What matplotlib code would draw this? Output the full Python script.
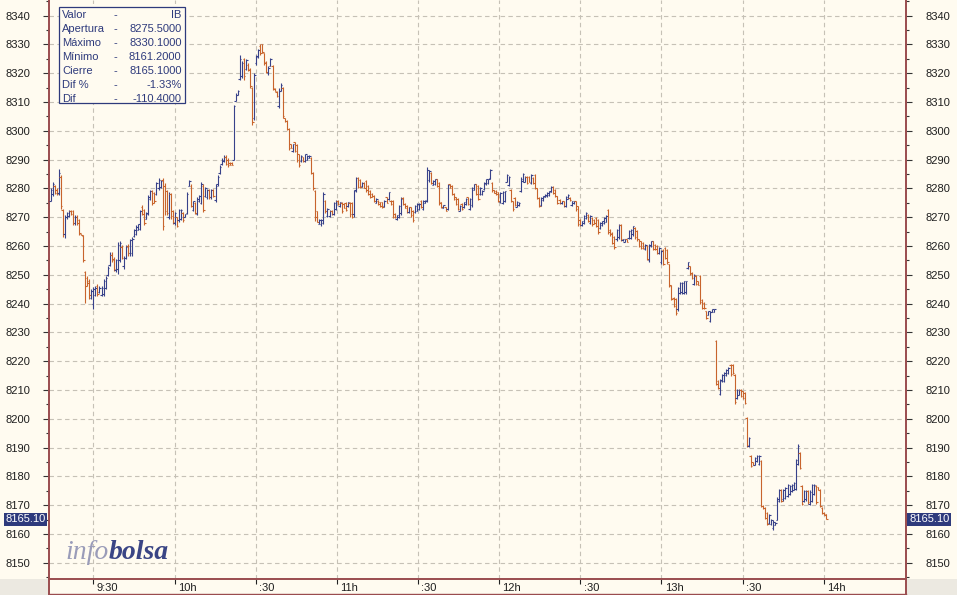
import numpy as np
import matplotlib
matplotlib.use("Agg")
import matplotlib.pyplot as plt
from matplotlib.collections import LineCollection
from matplotlib.patches import Rectangle
from matplotlib.lines import Line2D

plt.rcParams['font.family'] = ['Liberation Sans', 'DejaVu Sans']

# ---------------- data ----------------
first_bar_minute = 14.2     # minutes after 09:00 of the first bar
last_bar_minute = 300.9     # minutes after 09:00 of the last bar

open_prices = [
    8275.5, 8278, 8281, 8279.5, 8278.5, 8284, 8272.5, 8264, 8270, 8270.5,
    8272, 8272, 8268, 8270, 8269, 8264.3, 8263.5, 8251, 8249, 8248,
    8242, 8240, 8243, 8246, 8244, 8243, 8243.5, 8245.5, 8250, 8253.5,
    8257, 8255.5, 8251.5, 8252, 8255, 8259.5, 8253, 8256, 8260, 8257.5,
    8257.5, 8263.5, 8264, 8265.5, 8266, 8273.5, 8272.5, 8269.5, 8271, 8276.5,
    8279, 8278.5, 8278, 8280, 8280.5, 8283, 8281, 8279, 8270, 8278,
    8272, 8268, 8270, 8269, 8269.5,
    8271.5, 8270, 8271.5, 8281, 8281, 8272.5, 8275, 8271, 8275.5, 8275,
    8281, 8277.5, 8277, 8279.5, 8277, 8279.5, 8276, 8281.5, 8285.5, 8288.5,
    8289.5, 8291, 8290, 8289, 8289, 8290, 8310.5, 8312.5, 8318, 8319,
    8325, 8321.5, 8323, 8321.5, 8315, 8304.5, 8323.5, 8325.5, 8329.5, 8330,
    8327, 8324, 8320, 8322.5, 8322.5, 8314.7, 8313.5, 8308.5, 8314, 8315,
    8304.3, 8303.5, 8300.5, 8295.5, 8293, 8296, 8295, 8292, 8289.5, 8290.8,
    8289.5, 8290, 8290.5, 8290.5, 8285.5, 8279, 8272, 8267.8, 8267.5, 8268,
    8275.5, 8270.5, 8270.5, 8272.3, 8271.2, 8273, 8275.8, 8274, 8275, 8274.6,
    8275, 8274, 8275, 8275, 8271, 8279.5, 8283.5, 8283, 8280.8, 8282,
    8282.5, 8281, 8279.2, 8278.2, 8277.5, 8275, 8275.8, 8275.2, 8275.2, 8274,
    8277, 8276.3, 8275.8, 8275.8, 8271.2, 8269.3, 8270, 8271.5, 8276.8, 8274.6,
    8274, 8271.7, 8273.4, 8272.2, 8271.8, 8272.3, 8272.8, 8275.8, 8273, 8275,
    8276, 8282.8, 8285.5, 8281.3, 8281.4, 8283.2, 8282, 8275.2, 8273.3, 8273.5,
    8273, 8281.5, 8281, 8278, 8277, 8276.4, 8272.3, 8274.6, 8273.4, 8274.6,
    8276.9, 8273, 8274.2, 8279.6, 8281.5, 8280.8, 8278, 8278, 8279.7, 8281.4,
    8282, 8283.7, 8282, 8279.3, 8279.2, 8278.6, 8275.2,
    8275, 8275.6, 8282.4, 8281.2, 8279.5, 8275.5, 8276.6, 8273.7, 8274.2, 8279,
    8282.5, 8282.4, 8284.1, 8284.1, 8281.9, 8283.5, 8284.6, 8280, 8276.6, 8274.3,
    8276, 8277.1, 8277.2, 8277.8, 8278.9, 8280.6, 8279.5, 8277.2, 8276.1, 8274.8,
    8275.5, 8273.8, 8276.5, 8276.8, 8274.2, 8274.8, 8275.5, 8273.8, 8269.2, 8267.3,
    8268, 8269.7, 8270.9, 8268, 8269.8, 8269.2, 8269.8, 8269.2, 8266.2, 8267.3,
    8268, 8268.5, 8272.5, 8265.7, 8264.5, 8263.3, 8262.3, 8263, 8267.3, 8262,
    8261.5, 8262.3, 8262.8, 8262.8, 8264, 8266.2, 8265.1, 8262.3, 8261.6, 8261.1,
    8258.8, 8259.9, 8255, 8259.9, 8261.6, 8260.5, 8259.9, 8257.6, 8254.3, 8258.7,
    8259.3, 8258.7, 8253.6, 8246.1, 8242, 8241.5,
    8238, 8243.8, 8244, 8243.8, 8244, 8252.4, 8253, 8250.7, 8246.7, 8249.5,
    8247.8, 8249.5, 8241.4, 8240.3, 8237.4, 8236.1, 8234, 8237.2, 8237.2, 8227,
    8213, 8208.6, 8213, 8213, 8215.3, 8215.9, 8218.8, 8218.8, 8215.3, 8207.2,
    8208.4, 8210.1, 8209.5, 8209, 8200.3, 8190.6, 8187, 8184.9, 8184.1, 8185.3,
    8184.2, 8185.2, 8169.8, 8169.1, 8167.3, 8163.8, 8163.3, 8162, 8163.2, 8165,
    8171.4, 8175.4, 8172, 8172.5, 8173.2, 8173.7, 8174.8, 8175.4, 8175.6, 8184.3,
    8188, 8176.6, 8171.4, 8172, 8174.8, 8170.3, 8171.5, 8173.8, 8176.5, 8176.2,
    8175.4, 8169.1, 8167.4, 8166.8,
]

high_prices = [
    8280.3, 8282.4, 8281.2, 8280.0, 8286.8, 8284.7, 8273.0, 8270.7, 8271.9, 8272.5,
    8272.5, 8272.5, 8270.7, 8270.7, 8269.5, 8264.3, 8263.7, 8251.4, 8249.6, 8248.5,
    8245.0, 8245.6, 8246.1, 8246.7, 8246.1, 8246.1, 8248.5, 8249.6, 8253.2, 8257.8,
    8257.8, 8256.1, 8255.5, 8261.3, 8261.9, 8260.2, 8256.7, 8260.2, 8260.8, 8262.5,
    8263.1, 8266.0, 8267.2, 8267.8, 8272.5, 8274.2, 8273.0, 8271.9, 8277.7, 8279.5,
    8279.5, 8278.9, 8282.4, 8283.6, 8283.0, 8283.6, 8281.8, 8279.5, 8278.9, 8278.3,
    8272.5, 8271.9, 8270.1, 8273.0, 8273.0,
    8271.7, 8271.1, 8278.7, 8282.8, 8281.6, 8275.8, 8275.2, 8277.0, 8277.6, 8282.2,
    8281.6, 8280.5, 8279.9, 8279.9, 8279.9, 8279.9, 8281.6, 8284.5, 8288.0, 8290.4,
    8291.5, 8291.5, 8290.4, 8289.2, 8289.2, 8309.0, 8313.1, 8314.3, 8326.5, 8324.2,
    8325.3, 8324.8, 8323.6, 8321.8, 8315.4, 8320.1, 8326.5, 8328.3, 8330.0, 8330.1,
    8327.1, 8324.2, 8322.4, 8325.3, 8323.0, 8314.8, 8313.7, 8314.8, 8316.6, 8315.4,
    8304.4, 8303.8, 8300.9, 8295.6, 8295.6, 8296.2, 8295.6, 8292.1, 8291.5, 8290.9,
    8292.1, 8291.5, 8291.5, 8290.9, 8285.7, 8279.3, 8272.3, 8269.4, 8269.4, 8278.7,
    8276.0, 8273.1, 8272.5, 8272.5, 8275.4, 8276.0, 8276.0, 8275.4, 8275.4, 8274.8,
    8275.4, 8275.4, 8275.4, 8275.4, 8279.4, 8284.0, 8284.0, 8283.4, 8282.3, 8282.3,
    8282.9, 8281.1, 8279.4, 8278.3, 8277.7, 8276.6, 8276.0, 8275.4, 8275.4, 8276.0,
    8277.1, 8278.9, 8276.0, 8276.0, 8271.4, 8270.8, 8274.3, 8277.1, 8277.1, 8274.8,
    8274.3, 8273.7, 8273.7, 8272.5, 8274.3, 8274.8, 8274.8, 8276.0, 8276.0, 8276.0,
    8287.5, 8286.3, 8285.7, 8282.9, 8283.4, 8283.4, 8282.3, 8275.4, 8274.3, 8273.7,
    8281.7, 8281.7, 8281.1, 8278.3, 8277.1, 8276.6, 8274.3, 8274.8, 8275.4, 8276.6,
    8277.1, 8276.6, 8280.6, 8281.7, 8281.7, 8281.1, 8280.6, 8279.4, 8282.3, 8283.4,
    8283.4, 8286.9, 8282.3, 8279.4, 8279.4, 8278.9, 8278.9,
    8279.2, 8279.2, 8285.0, 8284.4, 8279.8, 8275.7, 8276.9, 8275.7, 8275.2, 8283.8,
    8285.5, 8284.4, 8284.4, 8284.4, 8285.0, 8283.8, 8285.0, 8280.3, 8276.9, 8276.9,
    8277.5, 8278.0, 8278.6, 8279.2, 8280.9, 8280.9, 8279.8, 8277.5, 8276.3, 8275.7,
    8275.7, 8277.5, 8278.0, 8276.9, 8275.7, 8275.7, 8275.7, 8274.0, 8269.4, 8268.8,
    8270.6, 8271.7, 8271.1, 8270.6, 8270.0, 8269.4, 8270.0, 8269.4, 8268.2, 8268.8,
    8270.0, 8270.6, 8272.9, 8265.9, 8264.8, 8263.6, 8265.9, 8267.7, 8267.7, 8262.5,
    8262.5, 8262.5, 8265.4, 8265.9, 8267.1, 8266.5, 8265.4, 8262.5, 8261.9, 8261.3,
    8260.8, 8260.2, 8260.8, 8261.9, 8261.9, 8260.8, 8260.2, 8259.6, 8258.5, 8259.0,
    8259.6, 8259.0, 8253.9, 8246.4, 8242.3, 8241.8,
    8245.7, 8247.5, 8247.5, 8248.0, 8248.0, 8254.6, 8253.2, 8250.9, 8250.3, 8249.8,
    8248.0, 8249.8, 8241.7, 8240.5, 8237.6, 8237.6, 8237.6, 8238.2, 8238.2, 8227.2,
    8213.3, 8213.9, 8215.6, 8216.2, 8217.4, 8217.9, 8219.1, 8219.1, 8215.6, 8210.4,
    8210.4, 8210.4, 8209.8, 8209.3, 8200.6, 8193.6, 8187.3, 8185.0, 8186.7, 8187.3,
    8187.3, 8185.5, 8169.9, 8169.3, 8167.6, 8167.0, 8165.3, 8164.7, 8164.1, 8172.8,
    8175.7, 8175.7, 8175.7, 8176.3, 8177.4, 8176.9, 8177.4, 8178.0, 8186.1, 8191.3,
    8188.4, 8176.9, 8175.1, 8175.1, 8175.1, 8175.1, 8177.4, 8177.4, 8176.9, 8176.3,
    8175.7, 8169.3, 8167.6, 8167.0,
]

low_prices = [
    8275.5, 8277.2, 8278.0, 8277.7, 8277.7, 8273.0, 8263.1, 8262.8, 8269.5, 8270.1,
    8270.7, 8267.2, 8267.2, 8267.2, 8263.7, 8263.7, 8254.3, 8240.3, 8246.1, 8241.5,
    8241.5, 8238.0, 8242.6, 8242.6, 8243.8, 8242.6, 8242.6, 8245.0, 8249.6, 8253.2,
    8254.3, 8251.4, 8250.8, 8250.2, 8254.3, 8255.5, 8252.0, 8255.5, 8256.7, 8256.7,
    8256.7, 8263.1, 8263.7, 8265.4, 8265.4, 8270.7, 8267.2, 8269.5, 8270.7, 8276.0,
    8274.2, 8274.8, 8277.7, 8279.5, 8280.0, 8265.4, 8270.7, 8270.7, 8269.5, 8269.5,
    8267.8, 8267.2, 8266.6, 8268.4, 8268.9,
    8268.2, 8270.0, 8271.1, 8281.0, 8273.5, 8272.3, 8271.1, 8270.6, 8275.2, 8274.6,
    8271.7, 8277.0, 8276.4, 8276.4, 8276.4, 8277.0, 8275.2, 8281.0, 8285.1, 8288.0,
    8289.2, 8288.0, 8287.5, 8288.0, 8288.0, 8289.8, 8310.2, 8312.5, 8317.8, 8318.3,
    8317.8, 8321.3, 8320.7, 8314.8, 8302.0, 8303.8, 8323.0, 8325.3, 8326.5, 8327.1,
    8323.0, 8320.1, 8319.5, 8322.4, 8314.3, 8313.7, 8311.9, 8307.9, 8313.7, 8304.4,
    8303.2, 8300.3, 8293.3, 8293.9, 8292.7, 8292.7, 8289.2, 8287.5, 8289.2, 8289.2,
    8289.2, 8289.8, 8290.4, 8285.1, 8279.3, 8268.8, 8268.2, 8267.6, 8267.0, 8267.6,
    8271.4, 8270.2, 8270.2, 8270.8, 8270.8, 8272.5, 8274.3, 8273.7, 8271.4, 8273.1,
    8272.0, 8273.7, 8270.2, 8269.7, 8270.2, 8278.9, 8280.0, 8280.0, 8280.6, 8280.0,
    8278.9, 8277.7, 8276.6, 8277.1, 8275.4, 8274.8, 8274.3, 8273.7, 8273.1, 8273.7,
    8274.8, 8276.0, 8274.3, 8269.7, 8269.7, 8269.1, 8269.7, 8270.8, 8274.3, 8273.1,
    8271.4, 8271.4, 8270.2, 8268.5, 8271.4, 8272.0, 8272.5, 8273.1, 8272.5, 8274.8,
    8275.4, 8282.3, 8281.7, 8281.1, 8281.1, 8280.6, 8274.3, 8273.1, 8273.1, 8272.0,
    8272.5, 8280.0, 8277.7, 8276.0, 8274.3, 8272.5, 8272.0, 8272.5, 8273.1, 8274.3,
    8274.3, 8272.5, 8273.7, 8279.4, 8277.7, 8276.0, 8277.7, 8277.7, 8279.4, 8281.1,
    8281.7, 8283.4, 8278.9, 8278.3, 8277.7, 8275.4, 8274.8,
    8274.6, 8275.2, 8282.1, 8280.9, 8275.2, 8272.3, 8274.0, 8273.4, 8274.0, 8278.6,
    8282.1, 8282.1, 8281.5, 8282.1, 8281.5, 8281.5, 8279.8, 8276.3, 8273.4, 8274.0,
    8275.7, 8276.9, 8276.9, 8277.5, 8278.6, 8278.0, 8276.9, 8274.6, 8274.6, 8274.6,
    8273.4, 8273.4, 8276.3, 8275.7, 8274.0, 8274.6, 8272.3, 8267.1, 8267.1, 8267.1,
    8267.7, 8269.4, 8268.2, 8267.7, 8267.1, 8267.7, 8266.5, 8264.2, 8265.9, 8267.1,
    8267.7, 8268.2, 8264.2, 8263.6, 8260.8, 8259.0, 8261.9, 8262.5, 8261.9, 8261.9,
    8261.3, 8261.3, 8262.5, 8262.5, 8263.6, 8262.5, 8261.9, 8259.6, 8259.0, 8259.0,
    8258.5, 8255.0, 8254.4, 8259.6, 8258.5, 8258.5, 8257.3, 8257.3, 8253.9, 8253.3,
    8255.6, 8253.9, 8245.8, 8241.2, 8238.9, 8236.0,
    8237.6, 8243.4, 8243.4, 8243.4, 8243.4, 8252.1, 8249.8, 8248.6, 8246.3, 8246.3,
    8246.3, 8239.9, 8238.2, 8238.2, 8234.7, 8235.9, 8233.6, 8237.0, 8237.0, 8211.6,
    8210.4, 8208.1, 8212.7, 8212.7, 8215.0, 8215.6, 8215.0, 8215.6, 8205.2, 8206.9,
    8208.1, 8207.5, 8206.9, 8205.2, 8190.2, 8190.2, 8183.2, 8183.8, 8183.8, 8185.0,
    8183.8, 8169.3, 8168.7, 8165.3, 8163.0, 8163.5, 8163.0, 8161.2, 8163.0, 8164.7,
    8171.1, 8171.1, 8171.6, 8172.2, 8172.8, 8173.4, 8174.5, 8175.1, 8175.1, 8183.8,
    8182.6, 8169.9, 8171.1, 8171.6, 8170.5, 8169.9, 8171.1, 8173.4, 8170.5, 8175.1,
    8169.3, 8167.0, 8166.4, 8165.3,
]

close_prices = [
    8279.5, 8281.5, 8278.5, 8278, 8285.5, 8274, 8264, 8270, 8271.5, 8272,
    8271, 8268, 8270, 8268, 8264.5, 8263.8, 8255, 8246, 8247, 8243,
    8244.5, 8245, 8245.5, 8243.5, 8245.5, 8245.5, 8248, 8249, 8252.5, 8257,
    8255, 8252, 8255, 8260.5, 8261, 8256, 8256, 8259.5, 8257.5, 8262,
    8262.5, 8265.5, 8266.5, 8267.5, 8272, 8271, 8268, 8271.5, 8277, 8279,
    8275, 8275.5, 8282, 8283, 8282.5, 8267, 8272, 8271.5, 8278, 8270.5,
    8268.5, 8271.5, 8267, 8272.5, 8272.5,
    8269, 8271, 8278, 8282.5, 8274, 8275.5, 8271.5, 8276.5, 8277.5, 8281.5,
    8272.5, 8280, 8279.5, 8277, 8279.5, 8277.5, 8281, 8284, 8287.5, 8290,
    8291, 8288.5, 8288, 8288.2, 8288.3, 8308.5, 8312.5, 8314, 8325, 8323.5,
    8319, 8324.5, 8321, 8315.5, 8303, 8319.5, 8326, 8328, 8327, 8327.5,
    8323.5, 8320.5, 8322, 8325, 8315, 8313.8, 8312, 8314, 8316, 8305,
    8303.3, 8300.8, 8294, 8294, 8295.3, 8293, 8290, 8288, 8291.2, 8289.5,
    8291.8, 8291.3, 8291.3, 8285.5, 8280, 8270, 8268.5, 8269.2, 8269, 8278,
    8272, 8272.8, 8272.2, 8271, 8275, 8275.5, 8274.5, 8275.2, 8272, 8273.3,
    8272.5, 8275.2, 8271, 8270, 8279, 8283.5, 8280.5, 8280.5, 8282, 8280.3,
    8279.3, 8278, 8277, 8277.3, 8275.8, 8276.4, 8274.5, 8274, 8273.4, 8275.8,
    8275, 8278.6, 8274.5, 8270.2, 8270, 8270.6, 8274, 8276.5, 8274.5, 8273.3,
    8271.8, 8273.4, 8270.6, 8269, 8274, 8274.5, 8274.5, 8273.5, 8275.7, 8275.8,
    8286.5, 8286, 8282, 8282.7, 8283.2, 8281, 8275, 8273.5, 8274.1, 8272.3,
    8281.2, 8280.3, 8278, 8276.3, 8274.6, 8273, 8274, 8272.8, 8275.2, 8276.4,
    8274.6, 8276.3, 8280, 8281.5, 8278.2, 8276.5, 8280.3, 8279.2, 8282, 8283.2,
    8283.2, 8286.5, 8279.3, 8278.5, 8278, 8275.8, 8278.5,
    8278.8, 8279, 8284.7, 8284, 8275.6, 8272.8, 8274.4, 8275.4, 8275, 8283.3,
    8285.1, 8284.1, 8281.9, 8282.4, 8284.6, 8281.8, 8280.3, 8276.8, 8273.8, 8276.6,
    8277.2, 8277.8, 8278.3, 8279, 8280.6, 8278.4, 8277.3, 8275, 8274.9, 8275.5,
    8273.8, 8277.1, 8277.8, 8275.9, 8275.5, 8275.5, 8272.7, 8267.6, 8267.4, 8268.6,
    8270.3, 8271.5, 8268.6, 8270.3, 8267.5, 8268, 8266.9, 8264.7, 8268, 8268.6,
    8269.8, 8270.3, 8264.8, 8264, 8261.2, 8259.5, 8265.5, 8267.2, 8262.4, 8262.4,
    8262.3, 8261.5, 8265.1, 8265.5, 8266.8, 8263, 8262.3, 8260, 8259.4, 8259.3,
    8260.5, 8255.5, 8260.4, 8261.6, 8258.9, 8258.8, 8257.7, 8259.3, 8258.1, 8253.8,
    8256, 8254.3, 8246.4, 8241.7, 8239.3, 8236.6,
    8245.3, 8247.1, 8247.2, 8247.7, 8247.8, 8254.3, 8250.2, 8249, 8250, 8246.7,
    8246.6, 8240.5, 8238.6, 8238.5, 8235.1, 8237.3, 8237.2, 8238, 8238, 8212,
    8210.8, 8213.5, 8215.3, 8215.8, 8217.1, 8217.6, 8215.4, 8216, 8205.8, 8210.1,
    8210.1, 8207.9, 8207.3, 8205.6, 8190.8, 8193.3, 8183.6, 8184, 8186.4, 8187,
    8186.9, 8169.8, 8168.9, 8165.7, 8163.4, 8166.6, 8165, 8164.3, 8163.9, 8172.3,
    8175.3, 8171.5, 8175.4, 8176, 8177, 8176.6, 8177.1, 8177.7, 8185.5, 8190.7,
    8183, 8170.4, 8174.8, 8174.8, 8171, 8174.6, 8177, 8177, 8171, 8175.3,
    8169.8, 8167.4, 8166.6, 8165.1,
]

x_tick_minutes = [30, 60, 90, 120, 150, 180, 210, 240, 270, 300]
x_tick_labels = ['9:30', '10h', ':30', '11h', ':30', '12h', ':30', '13h', ':30', '14h']
y_major_ticks = list(range(8150, 8341, 10))

last_price = 8165.10
last_price_label = '8165.10'

info_labels = ['Valor', 'Apertura', 'Máximo', 'Mínimo', 'Cierre', 'Dif %', 'Dif']
info_values = ['IB', '8275.5000', '8330.1000', '8161.2000', '8165.1000', '-1.33%', '-110.4000']

# ---------------- style ----------------
BG = '#FFFBF0'
CORNER = '#ECE9E1'
UP = '#38428A'
DOWN = '#C8642C'
NAVY = '#2E3A7C'
AXIS_RED = '#9A4C4E'
GRID = '#C6C1B6'
TXT = '#1E1E1E'

W, H = 957, 595
fig = plt.figure(figsize=(W / 100, H / 100), dpi=100)
fig.patch.set_facecolor(BG)

def fx(px):
    return px / W

def fy(py):
    return 1 - py / H

AX_L, AX_R, AX_B = 49, 906, 579
ax = fig.add_axes([fx(AX_L), fy(AX_B), (AX_R - AX_L) / W, AX_B / H])
ax.set_facecolor(BG)

# ---------------- bars ----------------
o = np.array(open_prices)
hi = np.array(high_prices)
lo = np.array(low_prices)
c = np.array(close_prices)
n = len(c)
assert len(o) == len(hi) == len(lo) == n
t = np.linspace(first_bar_minute, last_bar_minute, n)
tick_w = 0.55
segs, cols = [], []
for i in range(n):
    col = UP if c[i] >= o[i] else DOWN
    segs.append([(t[i], lo[i]), (t[i], hi[i])])
    segs.append([(t[i] - tick_w, o[i]), (t[i], o[i])])
    segs.append([(t[i], c[i]), (t[i] + tick_w, c[i])])
    cols += [col, col, col]
lc = LineCollection(segs, colors=cols, linewidths=0.8, antialiaseds=True, zorder=3)
lc.set_snap(True)
ax.add_collection(lc)

ax.set_xlim(13.6, 330.4)
ax.set_ylim(8144.34, 8345.45)

# ---------------- axes / ticks ----------------
ax.set_yticks(y_major_ticks)
ax.set_yticks(np.arange(8145, 8346, 5), minor=True)
ax.set_xticks(x_tick_minutes)
ax.set_xticklabels([])
ax.grid(True, which='major', color=GRID, linestyle=(0, (4, 3)), linewidth=0.8, zorder=1)
ax.set_axisbelow(True)

ax.tick_params(axis='y', which='major', direction='out', length=4.3, width=0.8,
               color='#333333', left=True, right=True, labelleft=True, labelright=True,
               labelsize=8, labelcolor=TXT, pad=9.4)
ax.tick_params(axis='y', which='minor', direction='out', length=2.2, width=0.8,
               color='#333333', left=True, right=True)
ax.tick_params(axis='x', which='major', direction='out', length=3.5, width=0.8,
               color='#222222', bottom=True, top=False, labelbottom=False)
for tk in ax.yaxis.get_major_ticks():
    tk.label2.set_fontsize(8)
    tk.label2.set_color(TXT)

ax.spines['top'].set_visible(False)
for s in ('left', 'right', 'bottom'):
    ax.spines[s].set_color(AXIS_RED)
    ax.spines[s].set_linewidth(1.4)

for m, lab in zip(x_tick_minutes, x_tick_labels):
    ax.annotate(lab, xy=(m, 0), xycoords=('data', 'axes fraction'),
                xytext=(2.4, -6.8), textcoords='offset points',
                ha='left', va='center', fontsize=8, color=TXT, annotation_clip=False)

# bottom band corners and lines
fig.patches.append(Rectangle((0, 0), fx(AX_L), (H - AX_B) / H, transform=fig.transFigure,
                             facecolor=CORNER, edgecolor='none', zorder=0))
fig.patches.append(Rectangle((fx(AX_R), 0), 1 - fx(AX_R), (H - AX_B) / H,
                             transform=fig.transFigure, facecolor=CORNER,
                             edgecolor='none', zorder=0))
fig.lines.append(Line2D([fx(AX_L), fx(AX_L)], [0, fy(AX_B)], transform=fig.transFigure,
                        color=AXIS_RED, linewidth=1.4))
fig.lines.append(Line2D([fx(AX_R), fx(AX_R)], [0, fy(AX_B)], transform=fig.transFigure,
                        color=AXIS_RED, linewidth=1.4))
fig.lines.append(Line2D([fx(AX_L), fx(AX_R)], [fy(594.3), fy(594.3)], transform=fig.transFigure,
                        color=AXIS_RED, linewidth=1.0))

# last price boxes
box = dict(boxstyle='square,pad=0.15', facecolor=NAVY, edgecolor='none')
ax.annotate(last_price_label, xy=(0, last_price), xycoords=('axes fraction', 'data'),
            xytext=(-43.5 * 0.72, 0), textcoords='offset points', ha='left', va='center',
            fontsize=8, color='white', bbox=box, annotation_clip=False, zorder=6)
ax.annotate(last_price_label, xy=(1, last_price), xycoords=('axes fraction', 'data'),
            xytext=(3 * 0.72, 0), textcoords='offset points', ha='left', va='center',
            fontsize=8, color='white', bbox=box, annotation_clip=False, zorder=6)

# info box
fig.patches.append(Rectangle((fx(59), fy(103)), (185 - 59) / W, (103 - 7) / H,
                             transform=fig.transFigure, facecolor=BG, edgecolor=NAVY,
                             linewidth=0.9, zorder=5))
for k, (lab, val) in enumerate(zip(info_labels, info_values)):
    yy = fy(14.8 + 14 * k)
    fig.text(fx(62), yy, lab, ha='left', va='center', fontsize=8, color=NAVY, zorder=6)
    fig.text(fx(115.5), yy, '-', ha='center', va='center', fontsize=8, color=NAVY, zorder=6)
    fig.text(fx(181.5), yy, val, ha='right', va='center', fontsize=8, color=NAVY, zorder=6)

# watermark
t_info = fig.text(fx(65), fy(559), 'info', fontfamily='Liberation Serif', style='italic',
                  fontsize=20, color='#9A9CB9', va='baseline', ha='left', zorder=2)
fig.canvas.draw()
bb = t_info.get_window_extent()
fig.text(bb.x1 / W, fy(559), 'bolsa', fontfamily='Liberation Serif', style='italic',
         fontweight='bold', fontsize=20, color='#3A4585', va='baseline', ha='left', zorder=2)

fig.savefig('out.png', dpi=100, facecolor=BG)
